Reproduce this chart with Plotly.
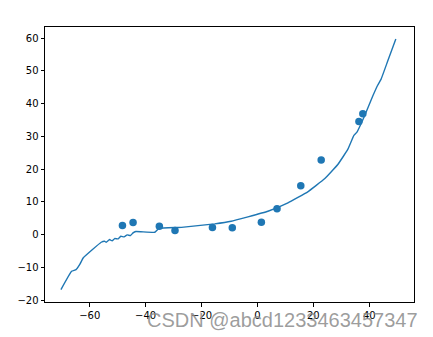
import plotly.graph_objects as go

# scatter data
pts_x = [-48.3, -44.5, -35.1, -29.5, -16.1, -9.0, 1.4, 7.0, 15.5, 22.8, 36.3, 37.7]
pts_y = [2.75, 3.67, 2.54, 1.22, 2.14, 2.05, 3.76, 7.86, 14.9, 22.8, 34.5, 36.9]

# fitted line
line_x = [-70.3, -66.5, -64.9, -63.5, -62.3, -55.9, -54.7, -54.1, -52.9, -52.0, -51.1,
          -49.8, -48.9, -47.7, -46.6, -45.4, -44.5, -43.5, -36.7, -35.2, -27.2, -15.3,
          -9.4, -3.4, 3.75, 10.9, 18.0, 24.0, 28.75, 32.3, 34.5, 35.6, 38.3, 41.25,
          43.0, 44.2, 46.6, 49.5]
line_y = [-16.8, -11.2, -10.7, -9.0, -7.1, -2.35, -2.05, -2.35, -1.53, -1.93, -1.22,
          -1.31, -0.52, -0.70, -0.09, -0.31, 0.52, 0.92, 0.70, 1.9, 2.2, 3.27,
          4.07, 5.41, 7.13, 9.69, 13.06, 17.03, 21.4, 26.0, 30.3, 31.3, 36.2, 42.3,
          45.6, 47.4, 53.0, 59.7]

x_ticks = [-60, -40, -20, 0, 20, 40]
y_ticks = [-20, -10, 0, 10, 20, 30, 40, 50, 60]

blue = "#1f77b4"

fig = go.Figure()
fig.add_trace(go.Scatter(x=line_x, y=line_y, mode="lines",
                         line=dict(color=blue, width=1.4, shape="spline", smoothing=0.3),
                         showlegend=False))
fig.add_trace(go.Scatter(x=pts_x, y=pts_y, mode="markers",
                         marker=dict(color=blue, size=7.5, line=dict(width=0)),
                         showlegend=False))

axis_common = dict(showline=True, linecolor="black", linewidth=1, mirror=True,
                   ticks="outside", ticklen=3.5, tickwidth=1, tickcolor="black",
                   showgrid=False, zeroline=False,
                   tickfont=dict(family="DejaVu Sans", size=10, color="black"))

fig.update_layout(
    width=433, height=337,
    margin=dict(l=45, r=19, t=27, b=35),
    paper_bgcolor="white", plot_bgcolor="white",
    xaxis=dict(range=[-76.0, 56.0], tickvals=x_ticks, **axis_common),
    yaxis=dict(range=[-20.6, 63.4], tickvals=y_ticks, **axis_common),
    annotations=[dict(text="CSDN @abcd1233463457347", xref="paper", yref="paper",
                      x=(282.5 - 45) / (433 - 45 - 19), y=-(320 - 302) / (337 - 27 - 35),
                      xanchor="center", yanchor="middle", showarrow=False,
                      font=dict(family="Liberation Sans", size=20, color="rgba(140,140,140,0.85)"))],
)

fig.write_html("out.html")
